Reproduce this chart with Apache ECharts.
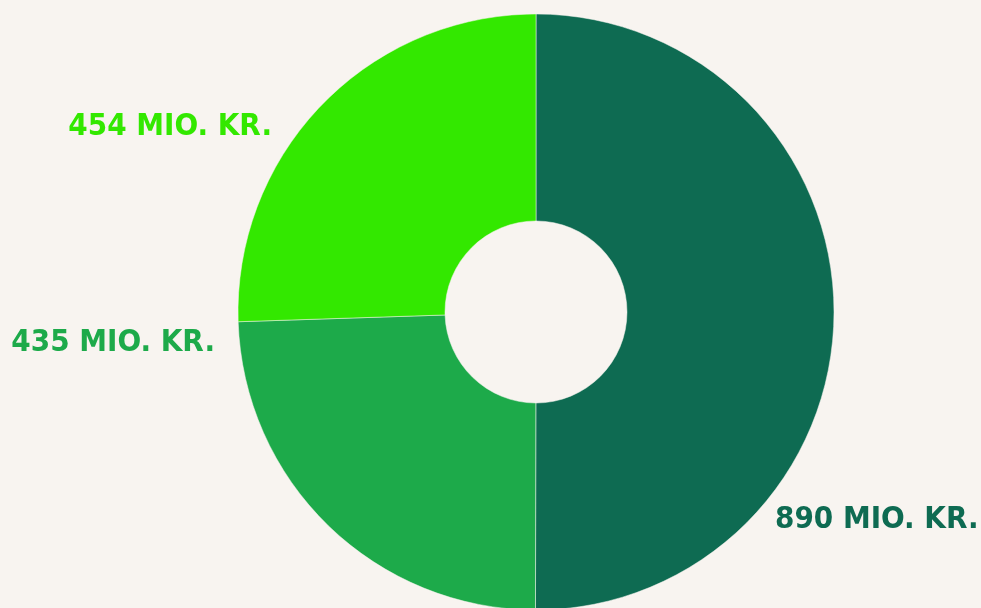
<!DOCTYPE html>
<html>
<head>
<meta charset="utf-8">
<script src="https://cdn.jsdelivr.net/npm/echarts@6/dist/echarts.min.js"></script>
<style>
  html, body { margin: 0; padding: 0; background: #f8f4f0; }
  #chart { width: 981px; height: 608px; }
</style>
</head>
<body>
<div id="chart"></div>
<script>
// slices, clockwise from 12 o'clock
const names = ["A", "B", "C"];
const values = [890, 435, 454];
const colors = ["#0e6b52", "#1daa4a", "#33e800"];

// label anchor offsets from the pie centre (px) and text alignment
const labelOffsets = [[239, 208, "left"], [-321, 31, "right"], [-264, -185, "right"]];

const cx = 536;
const cy = 312;

const chart = echarts.init(document.getElementById("chart"));

chart.setOption({
  backgroundColor: "#f8f4f0",
  animation: false,
  series: [
    {
      type: "pie",
      center: [cx, cy],
      radius: [91, 298],
      startAngle: 90,
      clockwise: true,
      silent: true,
      itemStyle: { borderColor: "#f8f4f0", borderWidth: 0.5 },
      label: {
        show: true,
        position: "outside",
        formatter: "{c} MIO. KR.",
        fontFamily: "'DejaVu Sans Condensed', sans-serif",
        fontWeight: "bold",
        fontSize: 31,
        overflow: "none"
      },
      labelLine: { show: false },
      labelLayout: function (p) {
        const o = labelOffsets[p.dataIndex];
        return { x: cx + o[0], y: cy + o[1], align: o[2], verticalAlign: "middle" };
      },
      data: values.map((v, i) => ({
        name: names[i],
        value: v,
        itemStyle: { color: colors[i] },
        label: { color: colors[i] }
      }))
    }
  ]
});
</script>
</body>
</html>
